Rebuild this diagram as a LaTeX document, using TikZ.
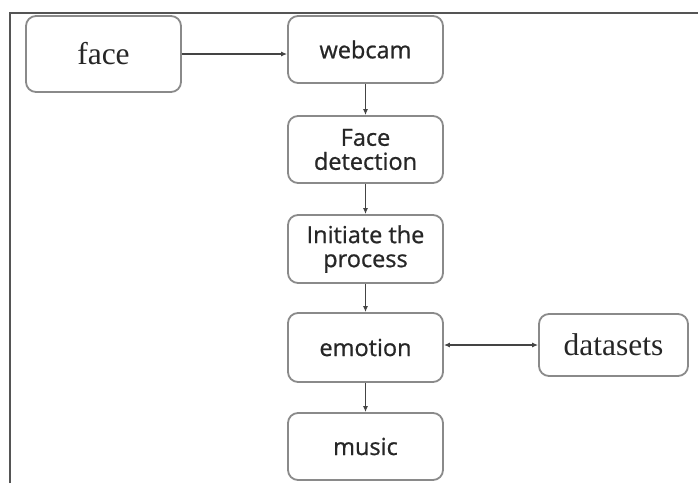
\documentclass[tikz,border=0pt]{standalone}
\usepackage{fontspec}
\setmainfont{Liberation Serif}
\newfontfamily\boxsans{Open Sans}[FakeBold=0.8]
\usetikzlibrary{arrows.meta}
\definecolor{boxgray}{HTML}{8A8A8A}
\definecolor{linegray}{HTML}{444444}
\definecolor{framegray}{HTML}{555555}
\tikzset{
  flowbox/.style={draw=boxgray, line width=1.8pt, rounded corners=10pt, minimum width=155pt, align=center, inner sep=0pt, text=black!85},
  sansbox/.style={flowbox, font=\boxsans\fontsize{23.5}{24}\selectfont},
  serifbox/.style={flowbox, font=\fontsize{31.5}{33}\selectfont},
  conn/.style={draw=linegray, line width=1.3pt, -{Latex[length=6pt,width=5pt]}},
  dconn/.style={draw=linegray, line width=1.3pt, {Latex[length=6pt,width=5pt]}-{Latex[length=6pt,width=5pt]}},
}
\begin{document}
\begin{tikzpicture}[x=1pt,y=-1pt]
\useasboundingbox (0,0) rectangle (698,483);
\draw[framegray, line width=1.4pt] (10,483) -- (10,13) -- (698,13);
\node[serifbox, minimum height=76pt] (face) at (103.5,54) {face};
\node[sansbox, minimum height=67pt] (webcam) at (365.5,49.5) {webcam};
\node[sansbox, minimum height=67pt] (facedet) at (365.5,149.5) {Face\\detection};
\node[sansbox, minimum height=68pt] (init) at (365.5,249) {Initiate the\\process};
\node[sansbox, minimum height=69pt] (emotion) at (365.5,347.5) {emotion};
\node[sansbox, minimum height=67pt] (music) at (365.5,446.5) {music};
\node[serifbox, minimum width=149pt, minimum height=62pt] (datasets) at (613.5,345) {datasets};
\draw[conn] (face.east) -- (face.east -| webcam.west);
\draw[conn] (webcam) -- (facedet);
\draw[conn] (facedet) -- (init);
\draw[conn] (init) -- (emotion);
\draw[conn] (emotion) -- (music);
\draw[dconn] (emotion.east |- datasets.west) -- (datasets.west);
\end{tikzpicture}
\end{document}
